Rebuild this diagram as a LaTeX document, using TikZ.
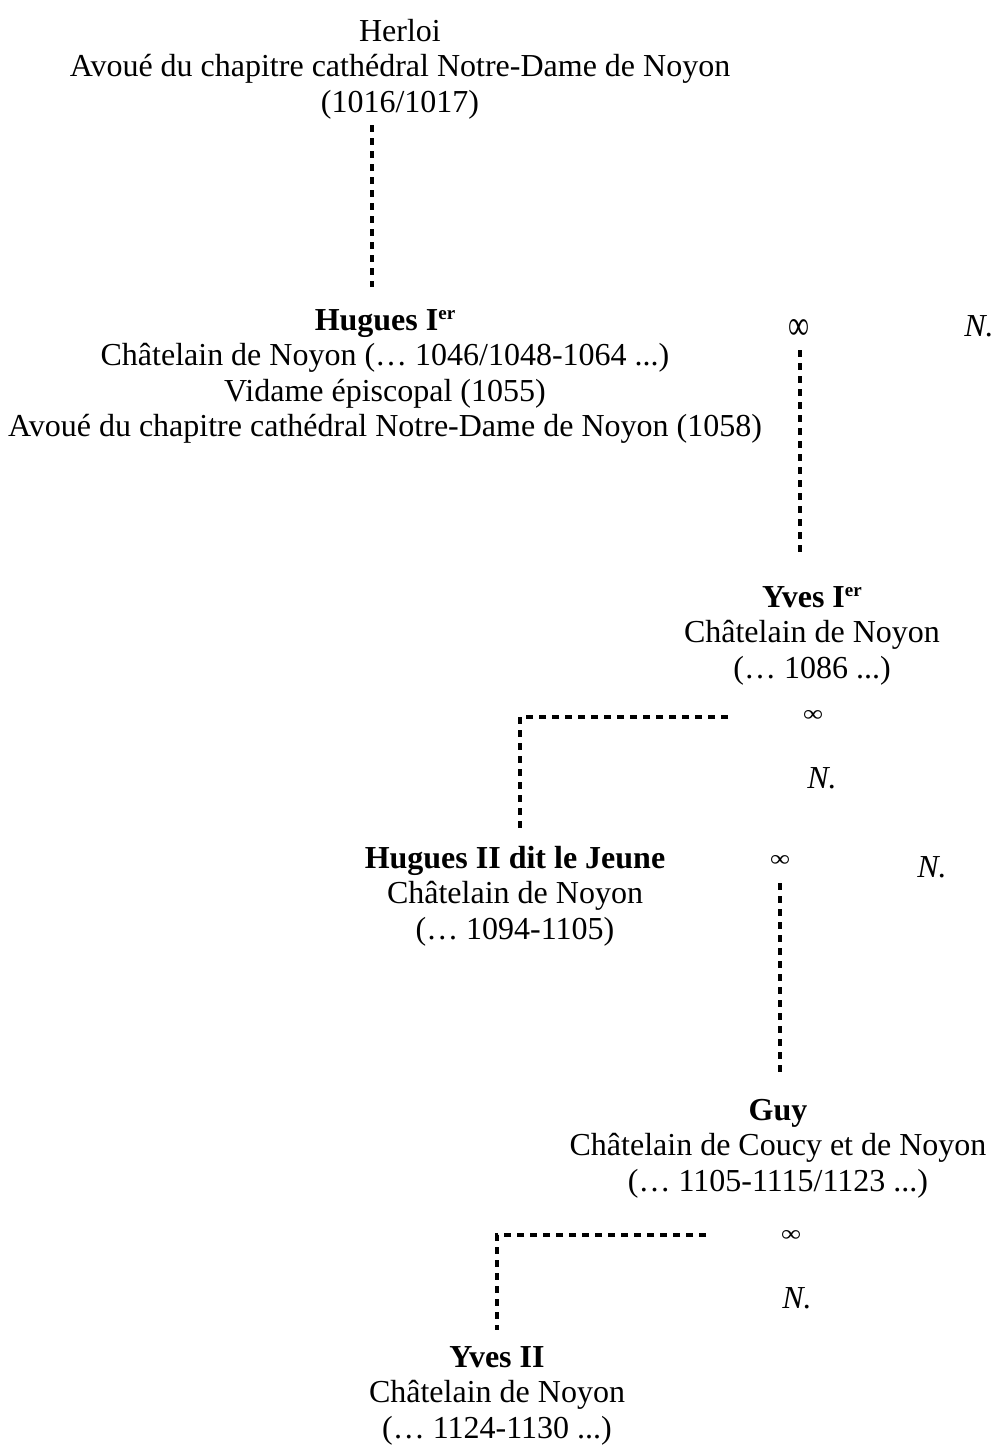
\documentclass[tikz,border=0pt]{standalone}
\usepackage{fontspec}
\usepackage{graphicx}
\setmainfont{Liberation Serif}
\newcommand{\ersup}{\raisebox{11pt}{\fontsize{19}{19}\selectfont er}}
\newcommand{\bigmar}{\resizebox{21pt}{20pt}{∞}}
\newcommand{\smallmar}{\resizebox{20pt}{11pt}{∞}}
\begin{document}
\begin{tikzpicture}[x=1pt,y=-1pt,
  person/.style={anchor=north,align=center,inner sep=0pt,font=\fontsize{32}{35.5}\selectfont},
  spouse/.style={inner sep=0pt,font=\fontsize{32}{35.5}\selectfont\itshape},
  mar/.style={inner sep=0pt},
  link/.style={line width=3.2pt,dash pattern=on 7pt off 6pt}]
\useasboundingbox (0,0) rectangle (995,1448);
\node[person] (herloi) at (400,19) {Herloi\\Avoué du chapitre cathédral Notre-Dame de Noyon\\(1016/1017)};
\node[person] (hugues1) at (385,309) {\textbf{Hugues I\ersup}\\Châtelain de Noyon (… 1046/1048-1064 ...)\\Vidame épiscopal (1055)\\Avoué du chapitre cathédral Notre-Dame de Noyon (1058)};
\node[mar] (m1) at (799,329) {\bigmar};
\node[spouse] (n1) at (979,326) {N.};
\node[person] (yves1) at (812,586) {\textbf{Yves I\ersup}\\Châtelain de Noyon\\(… 1086 ...)};
\node[mar] (m2) at (813,716) {\smallmar};
\node[spouse] (n2) at (822,778) {N.};
\node[person] (hugues2) at (515,846) {\textbf{Hugues II dit le Jeune}\\Châtelain de Noyon\\(… 1094-1105)};
\node[mar] (m3) at (780,861) {\smallmar};
\node[spouse] (n3) at (932,867) {N.};
\node[person] (guy) at (778,1099) {\textbf{Guy}\\Châtelain de Coucy et de Noyon\\(… 1105-1115/1123 ...)};
\node[mar] (m4) at (791,1236) {\smallmar};
\node[spouse] (n4) at (797,1298) {N.};
\node[person] (yves2) at (497,1346) {\textbf{Yves II}\\Châtelain de Noyon\\(… 1124-1130 ...)};
% connectors
\coordinate (a1) at (372,125);
\coordinate (a2) at (372,287);
\draw[link] (a1) -- (a2);
\coordinate (b1) at (800,350);
\coordinate (b2) at (800,556);
\draw[link] (b1) -- (b2);
\coordinate (c1) at (728,717);
\coordinate (c2) at (520,717);
\coordinate (c3) at (520,832);
\draw[link] (c1) -- (c2) -- (c3);
\coordinate (d1) at (780,883);
\coordinate (d2) at (780,1075);
\draw[link] (d1) -- (d2);
\coordinate (e1) at (706,1235);
\coordinate (e2) at (497,1235);
\coordinate (e3) at (497,1330);
\draw[link] (e1) -- (e2) -- (e3);
\end{tikzpicture}
\end{document}
